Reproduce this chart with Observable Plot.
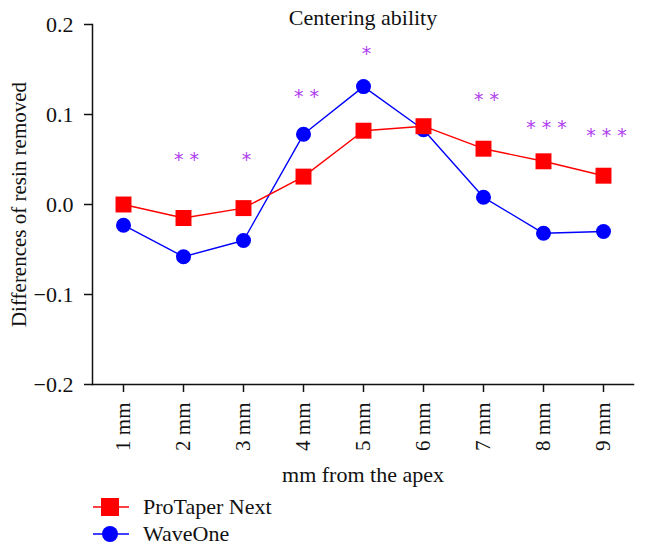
<!DOCTYPE html>
<html>
<head>
<meta charset="utf-8">
<script src="https://cdn.jsdelivr.net/npm/d3@7"></script>
<script src="https://cdn.jsdelivr.net/npm/@observablehq/plot@0.6"></script>
<style>
  body { margin: 0; background: #fff; font-family: "Liberation Serif", "DejaVu Serif", serif; }
  #chart svg { display: block; }
  .legend { position: relative; height: 68px; width: 648px; }
  .legend .item { position: absolute; left: 93px; display: flex; align-items: center; font-size: 22px; color: #111; }
  .legend .item span { margin-left: 14px; }
</style>
</head>
<body>
<div id="chart"></div>
<div class="legend" id="legend"></div>
<script>
const positions = ["1 mm", "2 mm", "3 mm", "4 mm", "5 mm", "6 mm", "7 mm", "8 mm", "9 mm"];
const proTaperNext = [0.000, -0.015, -0.004, 0.031, 0.082, 0.087, 0.062, 0.048, 0.032];
const waveOne = [-0.023, -0.058, -0.040, 0.078, 0.131, 0.083, 0.008, -0.032, -0.030];
const starPositions = ["2 mm", "3 mm", "4 mm", "5 mm", "7 mm", "8 mm", "9 mm"];
const starLabels = ["**", "*", "**", "*", "**", "***", "***"];
const starY = [0.049, 0.050, 0.120, 0.167, 0.116, 0.085, 0.076];
const yTicks = [-0.2, -0.1, 0.0, 0.1, 0.2];
const seriesNames = ["ProTaper Next", "WaveOne"];
const seriesColors = ["#ff0000", "#0000ff"];

const rowsP = positions.map((p, i) => ({pos: p, v: proTaperNext[i]}));
const rowsW = positions.map((p, i) => ({pos: p, v: waveOne[i]}));
const stars = starPositions.map((p, i) => ({pos: p, v: starY[i], t: starLabels[i].split("").join(" ")}));

const fmt = d => (d < 0 ? "\u2212" : "") + Math.abs(d).toFixed(1);
const serif = "'Liberation Serif', 'DejaVu Serif', serif";

const plot = Plot.plot({
  width: 648,
  height: 490,
  marginLeft: 92,
  marginRight: 15,
  marginTop: 24,
  marginBottom: 106,
  style: {fontFamily: serif, fontSize: "22px", color: "#111", background: "#fff"},
  x: {type: "point", domain: positions, padding: 0.5},
  y: {domain: [-0.2, 0.2]},
  marks: [
    Plot.frame({anchor: "left", stroke: "#111", strokeWidth: 1.5}),
    Plot.frame({anchor: "bottom", stroke: "#111", strokeWidth: 1.5}),
    Plot.axisY({ticks: yTicks, tickFormat: fmt, tickSize: 8, tickPadding: 11, strokeWidth: 1.5, fontSize: 22,
      label: null}),
    Plot.axisY({ticks: [], label: "Differences of resin removed", labelAnchor: "center", labelArrow: "none", labelOffset: 81, fontSize: 21}),
    Plot.axisX({tickSize: 8, tickPadding: 10, tickRotate: -90, strokeWidth: 1.5, fontSize: 21, label: null}),
    Plot.axisX({ticks: [], label: "mm from the apex", labelAnchor: "center", labelArrow: "none", labelOffset: 97, fontSize: 22}),
    Plot.line(rowsW, {x: "pos", y: "v", stroke: seriesColors[1], strokeWidth: 1.4}),
    Plot.line(rowsP, {x: "pos", y: "v", stroke: seriesColors[0], strokeWidth: 1.4}),
    Plot.dot(rowsW, {x: "pos", y: "v", r: 7.5, fill: seriesColors[1], symbol: "circle"}),
    Plot.dot(rowsP, {x: "pos", y: "v", r: 9, fill: seriesColors[0], symbol: "square"}),
    Plot.text(stars, {x: "pos", y: "v", text: "t", dx: 3, fill: "#b040f0", fontSize: 19, fontFamily: "'DejaVu Sans', sans-serif"}),
    Plot.text(["Centering ability"], {frameAnchor: "top", lineAnchor: "bottom", dy: 0, fontSize: 22, fill: "#111"})
  ]
});
document.getElementById("chart").appendChild(plot);

const legend = document.getElementById("legend");
seriesNames.forEach((name, i) => {
  const item = document.createElement("div");
  item.className = "item";
  item.style.top = (i === 0 ? 4 : 31) + "px";
  const marker = i === 0
    ? `<rect x="8" y="1" width="18" height="18" fill="${seriesColors[i]}"/>`
    : `<circle cx="17" cy="10" r="8" fill="${seriesColors[i]}"/>`;
  item.innerHTML = `<svg width="36" height="20"><line x1="0" x2="36" y1="10" y2="10" stroke="${seriesColors[i]}" stroke-width="1.5"/>${marker}</svg><span>${name}</span>`;
  legend.appendChild(item);
});
</script>
</body>
</html>
